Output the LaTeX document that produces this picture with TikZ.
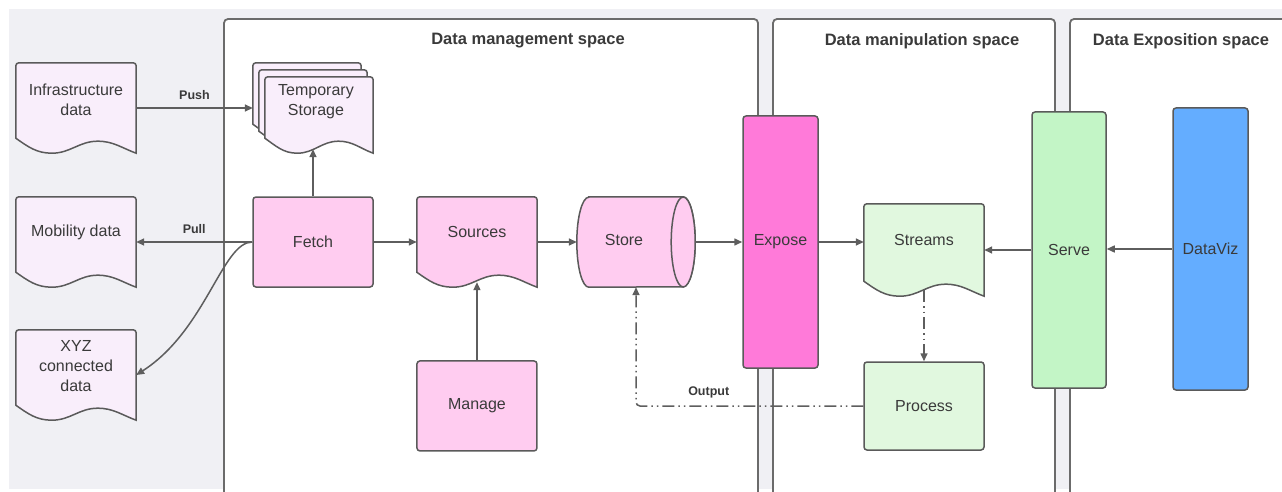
\documentclass[tikz,border=0pt]{standalone}
\usepackage{fontspec}
\setmainfont{Liberation Sans}
\usetikzlibrary{positioning,calc,arrows.meta}

\definecolor{bggray}{HTML}{F0F0F4}
\definecolor{lanegray}{HTML}{6B6B6B}
\definecolor{edgegray}{HTML}{5A5A5A}
\definecolor{arrowgray}{HTML}{5E5E5E}
\definecolor{textgray}{HTML}{3A3A3A}
\definecolor{docfill}{HTML}{F9EEFB}
\definecolor{pinkfill}{HTML}{FFCCF0}
\definecolor{hotpink}{HTML}{FF7AD9}
\definecolor{palegreen}{HTML}{E1F8DF}
\definecolor{servegreen}{HTML}{C3F5C6}
\definecolor{vizblue}{HTML}{64ADFF}

\pgfdeclarelayer{lanes}
\pgfdeclarelayer{docs}
\pgfsetlayers{lanes,docs,main}

\newcommand{\nodefont}{\fontsize{16}{20}\selectfont}
% document shape with a wavy bottom, drawn round a named node
\newcommand{\docshape}[2]{%
  \path[doc line,fill=#2]
    ($(#1.south west)+(0,15)$) [rounded corners=3pt] -- (#1.north west) -- (#1.north east)
    [sharp corners] -- (#1.south east)
    to[out=160,in=0] ($(#1.south west)!0.68!(#1.south east)+(0,12)$)
    to[out=180,in=0] ($(#1.south west)!0.3!(#1.south east)$)
    to[out=180,in=-35] ($(#1.south west)+(0,15)$) -- cycle;}
% lying cylinder, the open end on the right
\newcommand{\cylshape}[2]{%
  \path[doc line,fill=#2]
    ([xshift=12pt]#1.north west) -- ([xshift=-12pt]#1.north east)
    arc[start angle=90,end angle=-90,x radius=12pt,y radius=45pt]
    -- ([xshift=12pt]#1.south west)
    arc[start angle=270,end angle=90,x radius=12pt,y radius=45pt] -- cycle;
  \path[doc line,fill=#2] ([xshift=-12pt]#1.east) ellipse[x radius=12pt,y radius=45pt];}

\begin{document}
\begin{tikzpicture}[x=1pt,y=1pt,>={Triangle[length=8pt,width=7pt]}]
% --- Layout & Styles --------------------------------------
\tikzstyle{space}=[draw=lanegray,line width=1.8pt,fill=white,rounded corners=4pt]
\tikzstyle{space title}=[font=\fontsize{16.5}{18}\selectfont\bfseries,text=textgray]
\tikzstyle{box}=[rectangle,rounded corners=3pt,draw=edgegray,line width=1.5pt,text=textgray,font=\nodefont,align=center,inner sep=0]
\tikzstyle{doc}=[rectangle,minimum width=120pt,minimum height=90pt,inner sep=0]
\tikzstyle{doc line}=[draw=edgegray,line width=1.5pt]
\tikzstyle{doc text}=[text=textgray,font=\nodefont,align=center]
\tikzstyle{flow}=[->,draw=arrowgray,line width=1.5pt]
\tikzstyle{flow label}=[font=\fontsize{12.5}{14}\selectfont\bfseries,text=textgray]
\tikzstyle{back flow}=[flow,dash pattern=on 12pt off 4pt on 1.5pt off 4pt on 1.5pt off 4pt]

\useasboundingbox (0,0) rectangle (1282,-492);

% --- Spaces -----------------------------------------------
\begin{pgfonlayer}{lanes}
\fill[bggray] (9,-9) rectangle (1282,-489);
\path[space] (224,-493) -- (224,-19) -- (758,-19) -- (758,-493);
\path[space] (773,-493) -- (773,-19) -- (1055,-19) -- (1055,-493);
\path[space] (1070,-493) -- (1070,-19) -- (1290,-19) -- (1290,-493);
\end{pgfonlayer}
\node[space title] (mgmt) at (528,-41) {Data management space};
\node[space title] (manip) at (922,-41) {Data manipulation space};
\node[space title] (expo) at (1181,-41) {Data Exposition space};

% --- Nodes ------------------------------------------------
\node[doc] (infra) at (76,-108) {};
\node[doc] (mob) at (76,-242) {};
\node[doc] (xyz) at (76,-375) {};
\node[doc,minimum width=108pt,minimum height=76pt] (tmp3) at (307,-101) {};
\node[doc,minimum width=108pt,minimum height=76pt] (tmp2) at (313,-108) {};
\node[doc,minimum width=108pt,minimum height=76pt] (tmp) at (319,-115) {};
\node[box,minimum width=120pt,minimum height=90pt,fill=pinkfill] (fetch) at (313,-242) {Fetch};
\node[doc,right=43pt of fetch] (src) {};
\node[box,minimum width=120pt,minimum height=90pt,fill=pinkfill,below=73pt of src] (mng) {Manage};
\node[doc,minimum width=118pt] (store) at (636,-242) {};
\node[box,minimum width=75pt,minimum height=252pt,fill=hotpink] (expose) at (780.5,-242) {Expose};
\node[doc,minimum height=92pt] (streams) at (924,-250) {};
\node[box,minimum width=120pt,minimum height=88pt,fill=palegreen] (proc) at (924,-406) {Process};
\node[box,minimum width=74pt,minimum height=276pt,fill=servegreen] (serve) at (1069,-250) {Serve};
\node[box,minimum width=75pt,minimum height=282pt,fill=vizblue] (viz) at (1210.5,-249) {DataViz};

\begin{pgfonlayer}{docs}
\docshape{infra}{docfill}
\docshape{mob}{docfill}
\docshape{xyz}{docfill}
\docshape{tmp3}{docfill}
\docshape{tmp2}{docfill}
\docshape{tmp}{docfill}
\docshape{src}{pinkfill}
\cylshape{store}{pinkfill}
\docshape{streams}{palegreen}
\end{pgfonlayer}

% --- Node labels ------------------------------------------
\node[doc text] (infra-t) at ([yshift=8pt]infra.center) {Infrastructure\\data};
\node[doc text] (mob-t) at ([yshift=10pt]mob.center) {Mobility data};
\node[doc text] (xyz-t) at ([yshift=9pt]xyz.center) {XYZ\\connected\\data};
\node[doc text] (tmp-t) at ([xshift=-3pt,yshift=13pt]tmp.center) {Temporary\\Storage};
\node[doc text] (src-t) at ([yshift=10pt]src.center) {Sources};
\node[doc text] (store-t) at ([xshift=-12pt,yshift=2pt]store.center) {Store};
\node[doc text] (streams-t) at ([yshift=10pt]streams.center) {Streams};

% --- Edges ------------------------------------------------
\draw[flow] (infra.east) -- node[flow label,above=4pt] (push) {Push} (infra.east -| tmp3.west);
\draw[flow] (fetch.west) -- node[flow label,above=4pt] (pull) {Pull} (mob.east);
\draw[flow] (fetch.west) .. controls +(-30,0) and +(70,45) .. (xyz.east);
\draw[flow] (fetch.north) -- ([yshift=4pt]fetch.north |- tmp.south);
\draw[flow] (fetch.east) -- (src.west);
\draw[flow] (mng.north) -- ([yshift=5pt]src.south);
\draw[flow] (src.east) -- (store.west);
\draw[flow] (store.east) -- (store.east -| expose.west);
\draw[flow] (expose.east) -- (expose.east -| streams.west);
\draw[flow] (serve.west) -- (streams.east);
\draw[flow] (viz.west) -- (viz.west -| serve.east);
\draw[back flow] ([yshift=6pt]streams.south) -- (proc.north);
\draw[back flow,rounded corners=4pt] (proc.west) -| node[flow label,above=4pt,pos=0.34] (out) {Output} (store.south);

\end{tikzpicture}
\end{document}
